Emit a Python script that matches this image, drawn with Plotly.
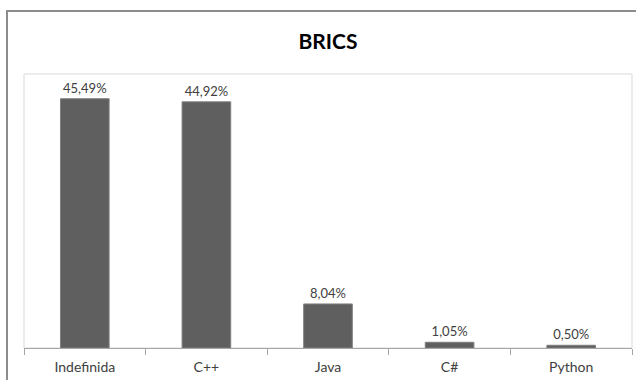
import plotly.graph_objects as go

# Share of projects per language, BRICS
languages = ["Indefinida", "C++", "Java", "C#", "Python"]
shares = [45.49, 44.92, 8.04, 1.05, 0.50]
share_labels = ["45,49%", "44,92%", "8,04%", "1,05%", "0,50%"]

FONT = "Lato, 'Open Sans', sans-serif"
TEXT_COLOR = "#404040"

fig = go.Figure(
    go.Bar(
        x=languages,
        y=shares,
        text=share_labels,
        textposition="outside",
        textfont=dict(family=FONT, size=13, color=TEXT_COLOR),
        cliponaxis=False,
        width=0.4,
        marker=dict(color="#5f5f5f", line=dict(color="#808080", width=1)),
    )
)

fig.update_layout(
    width=636,
    height=380,
    margin=dict(l=24, r=4, t=74, b=32),
    paper_bgcolor="white",
    plot_bgcolor="white",
    showlegend=False,
    title=dict(
        text="<b>BRICS</b>",
        x=0.5,
        xref="paper",
        xanchor="center",
        y=1 - 42 / 380,
        yanchor="middle",
        font=dict(family=FONT, size=21, color="#000000"),
    ),
    xaxis=dict(
        showline=True,
        linecolor="#a6a6a6",
        linewidth=1,
        ticks="outside",
        tickson="boundaries",
        ticklen=6,
        tickcolor="#a6a6a6",
        ticklabelstandoff=6,
        tickfont=dict(family=FONT, size=14, color=TEXT_COLOR),
        showgrid=False,
    ),
    yaxis=dict(
        range=[0, 50],
        visible=False,
        showgrid=False,
        zeroline=False,
    ),
    shapes=[
        # plot-area frame
        dict(type="rect", xref="paper", yref="paper", x0=0, y0=0, x1=1, y1=1,
             line=dict(color="#d9d9d9", width=1), layer="below"),
        # outer chart frame
        dict(type="rect", xref="paper", yref="paper",
             x0=(7 - 24) / 608, y0=-0.3, x1=1.2, y1=1 + (74 - 11) / 274,
             line=dict(color="#8c8c8c", width=2), layer="below"),
    ],
)

fig.write_html("out.html")
